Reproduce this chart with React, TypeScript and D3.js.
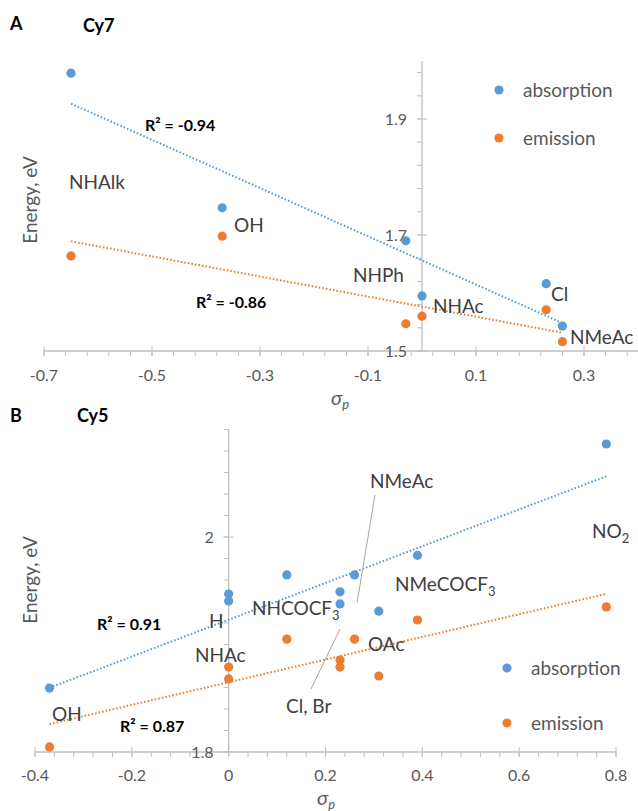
import * as d3 from "d3";
import { useRef, useEffect } from "react";

// Cy7 (panel A): sigma_p and transition energies, eV
const cy7Sigma = [-0.65, -0.37, -0.03, 0, 0.23, 0.26];
const cy7Absorption = [1.979, 1.747, 1.69, 1.595, 1.616, 1.543];
const cy7Emission = [1.664, 1.698, 1.547, 1.56, 1.571, 1.516];

// Cy5 (panel B)
const cy5Sigma = [-0.37, 0, 0, 0.12, 0.23, 0.23, 0.26, 0.31, 0.39, 0.78];
const cy5Absorption = [1.8595, 1.947, 1.9405, 1.9647, 1.949, 1.9377, 1.9647, 1.931, 1.983, 2.0865];
const cy5Emission = [1.8047, 1.879, 1.868, 1.905, 1.8856, 1.879, 1.905, 1.8707, 1.9228, 1.935];

const cy7XTicks = [-0.7, -0.5, -0.3, -0.1, 0.1, 0.3];
const cy7YTicks = [1.5, 1.7, 1.9];
const cy5XTicks = [-0.4, -0.2, 0, 0.2, 0.4, 0.6, 0.8];
const cy5YTicks = [1.8, 2];

const BLUE = "#5b9bd5";
const ORANGE = "#ed7d31";
const AXIS = "#bfbfbf";
const FONT = "Lato, 'Open Sans', sans-serif";

const fit = (xs, ys) => {
    const mx = d3.mean(xs), my = d3.mean(ys);
    let sxy = 0, sxx = 0;
    xs.forEach((x, i) => { sxy += (x - mx) * (ys[i] - my); sxx += (x - mx) * (x - mx); });
    const b = sxy / sxx;
    return x => my + b * (x - mx);
};

const drawPanel = (g, cfg) => {
    const { x, y, sigma, abs, emi, xTicks, yTicks, xMinor, yMinor, labelDy } = cfg;
    const x0 = x(0);
    const yBase = y.range()[0];

    // axes
    g.append("line").attr("x1", x.range()[0]).attr("x2", x.range()[1])
        .attr("y1", yBase).attr("y2", yBase).attr("stroke", AXIS).attr("stroke-width", 1.3);
    g.append("line").attr("x1", x0).attr("x2", x0)
        .attr("y1", y.range()[0]).attr("y2", y.range()[1]).attr("stroke", AXIS).attr("stroke-width", 1.3);

    g.selectAll(".xminor").data(xMinor).enter().append("line")
        .attr("x1", d => x(d)).attr("x2", d => x(d))
        .attr("y1", yBase).attr("y2", yBase + 5).attr("stroke", AXIS);
    g.selectAll(".xmajor").data(xTicks).enter().append("line")
        .attr("x1", d => x(d)).attr("x2", d => x(d))
        .attr("y1", yBase - 5).attr("y2", yBase + 5).attr("stroke", AXIS);
    g.selectAll(".yminor").data(yMinor).enter().append("line")
        .attr("x1", x0 - 5).attr("x2", x0)
        .attr("y1", d => y(d)).attr("y2", d => y(d)).attr("stroke", AXIS);
    g.selectAll(".ymajor").data(yTicks).enter().append("line")
        .attr("x1", x0 - 5).attr("x2", x0 + 5)
        .attr("y1", d => y(d)).attr("y2", d => y(d)).attr("stroke", AXIS);

    // plain hyphen minus, like the original
    g.selectAll(".xlab").data(xTicks).enter().append("text")
        .attr("x", d => x(d)).attr("y", yBase + labelDy)
        .attr("text-anchor", "middle").attr("font-size", 16).attr("fill", "#595959")
        .text(d => String(d));
    g.selectAll(".ylab").data(yTicks).enter().append("text")
        .attr("x", x0 - 15).attr("y", d => y(d) + 6)
        .attr("text-anchor", "end").attr("font-size", 16).attr("fill", "#595959")
        .text(d => String(d));

    // trendlines
    const xr = d3.extent(sigma);
    [[abs, BLUE], [emi, ORANGE]].forEach(([vals, col]) => {
        const f = fit(sigma, vals);
        g.append("line")
            .attr("x1", x(xr[0])).attr("y1", y(f(xr[0])))
            .attr("x2", x(xr[1])).attr("y2", y(f(xr[1])))
            .attr("stroke", col).attr("stroke-width", 2)
            .attr("stroke-dasharray", "1.6 2");
    });

    // points
    [[abs, BLUE], [emi, ORANGE]].forEach(([vals, col]) => {
        g.append("g").selectAll("circle").data(vals).enter().append("circle")
            .attr("cx", (d, i) => x(sigma[i])).attr("cy", d => y(d))
            .attr("r", 4.6).attr("fill", col);
    });
};

const label = (g, px, py, txt, opts = {}) => {
    const t = g.append("text").attr("x", px).attr("y", py)
        .attr("font-size", opts.size || 19)
        .attr("font-weight", opts.bold ? "bold" : "normal")
        .attr("fill", opts.color || "#404040");
    if (opts.sub) {
        t.append("tspan").text(txt);
        t.append("tspan").attr("dy", 5).attr("font-size", 13).text(opts.sub);
    } else {
        t.text(txt);
    }
    return t;
};

const sigmaTitle = (g, px, py) => {
    const t = g.append("text").attr("x", px).attr("y", py).attr("fill", "#595959")
        .attr("font-style", "italic");
    t.append("tspan").attr("font-size", 20).text("σ");
    t.append("tspan").attr("dy", 4).attr("font-size", 13).text("p");
};

const energyTitle = (g, px, py) => {
    g.append("text").attr("transform", `translate(${px},${py}) rotate(-90)`)
        .attr("text-anchor", "middle").attr("font-size", 19).attr("fill", "#595959")
        .text("Energy, eV");
};

const legend = (g, px, py, gap) => {
    [["absorption", BLUE], ["emission", ORANGE]].forEach(([name, col], i) => {
        g.append("circle").attr("cx", px).attr("cy", py + i * gap).attr("r", 4.6).attr("fill", col);
        g.append("text").attr("x", px + 24).attr("y", py + i * gap + 7)
            .attr("font-size", 19).attr("fill", "#595959").text(name);
    });
};

const ChartDraw = () => {
    const chartRef = useRef(null);

    useEffect(() => {
        const svg = d3.select(chartRef.current);
        svg.selectAll("*").remove();
        const g = svg.append("g").attr("font-family", FONT);

        // ---------- panel A ----------
        const xA = d3.scaleLinear().domain([-0.7, 0.4]).range([44, 638]);
        const yA = d3.scaleLinear().domain([1.5, 2.0]).range([351, 61]);
        drawPanel(g, {
            x: xA, y: yA, sigma: cy7Sigma, abs: cy7Absorption, emi: cy7Emission,
            xTicks: cy7XTicks, yTicks: cy7YTicks, labelDy: 30,
            xMinor: d3.range(0, 28).map(k => -0.7 + k * 0.04),
            yMinor: d3.range(0, 13).map(k => 1.5 + k * 0.04)
        });
        label(g, 10, 30, "A", { bold: true, size: 18, color: "#000" });
        label(g, 83, 32, "Cy7", { bold: true, size: 18, color: "#000" });
        label(g, 69, 189, "NHAlk");
        label(g, 234, 232, "OH");
        label(g, 353, 282, "NHPh");
        label(g, 433, 313, "NHAc");
        label(g, 551, 301, "Cl");
        label(g, 570, 344, "NMeAc");
        label(g, 145, 131, "R² = -0.94", { bold: true, size: 16, color: "#000" });
        label(g, 196, 308, "R² = -0.86", { bold: true, size: 16, color: "#000" });
        legend(g, 499, 90, 48);
        energyTitle(g, 37, 200);
        sigmaTitle(g, 331, 405);

        // ---------- panel B ----------
        const xB = d3.scaleLinear().domain([-0.4, 0.8]).range([35, 616]);
        const yB = d3.scaleLinear().domain([1.8, 2.1]).range([752, 429.5]);
        drawPanel(g, {
            x: xB, y: yB, sigma: cy5Sigma, abs: cy5Absorption, emi: cy5Emission,
            xTicks: cy5XTicks, yTicks: cy5YTicks, labelDy: 29,
            xMinor: d3.range(0, 31).map(k => -0.4 + k * 0.04),
            yMinor: d3.range(0, 16).map(k => 1.8 + k * 0.02)
        });
        label(g, 10, 422, "B", { bold: true, size: 18, color: "#000" });
        label(g, 77, 422, "Cy5", { bold: true, size: 18, color: "#000" });
        label(g, 370, 488, "NMeAc");
        label(g, 592, 538, "NO", { sub: "2" });
        label(g, 395, 591, "NMeCOCF", { sub: "3" });
        label(g, 252, 615, "NHCOCF", { sub: "3" });
        label(g, 209, 628, "H");
        label(g, 195, 662, "NHAc");
        label(g, 368, 651, "OAc");
        label(g, 286, 713, "Cl, Br");
        label(g, 52, 721, "OH");
        g.append("line").attr("x1", 375).attr("y1", 495).attr("x2", 357).attr("y2", 603)
            .attr("stroke", "#a6a6a6").attr("stroke-width", 1);
        g.append("line").attr("x1", 340).attr("y1", 629).attr("x2", 311).attr("y2", 689)
            .attr("stroke", "#a6a6a6").attr("stroke-width", 1);
        label(g, 97, 630, "R² = 0.91", { bold: true, size: 16, color: "#000" });
        label(g, 120, 732, "R² = 0.87", { bold: true, size: 16, color: "#000" });
        legend(g, 507, 668, 55);
        energyTitle(g, 37, 580);
        sigmaTitle(g, 317, 805);
    }, []);

    return (
        <svg ref={chartRef} width={638} height={811}
             style={{ position: "absolute", left: 0, top: 0, background: "#fff" }}></svg>
    );
};

export default function App() {
    return <ChartDraw />;
}
